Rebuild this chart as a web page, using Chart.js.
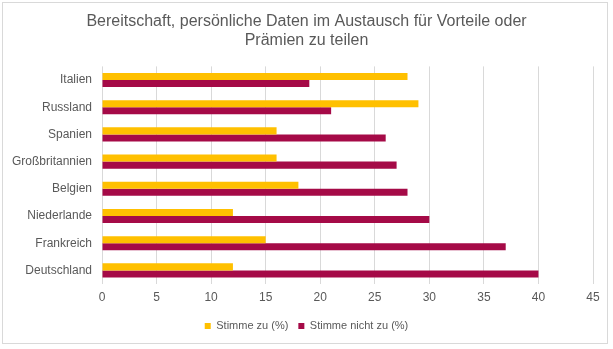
<!DOCTYPE html>
<html>
<head>
<meta charset="utf-8">
<script src="https://cdn.jsdelivr.net/npm/chart.js@4/dist/chart.umd.min.js"></script>
<style>
  html, body { margin: 0; padding: 0; background: #fff; }
  #frame { position: absolute; left: 2px; top: 2px; width: 606px; height: 342px; border: 1px solid #d9d9d9; box-sizing: border-box; }
  #wrap { position: absolute; left: 0; top: 0; width: 613px; height: 349px; }
</style>
</head>
<body>
<div id="frame"></div>
<div id="wrap"><canvas id="mainChart"></canvas></div>
<script>
// ═══ DATA ═══
const laender = ['Italien','Russland','Spanien','Großbritannien','Belgien','Niederlande','Frankreich','Deutschland'];
const stimmeZu = [28, 29, 16, 16, 18, 12, 15, 12];
const stimmeNichtZu = [19, 21, 26, 27, 28, 30, 37, 40];
const xTicks = [0, 5, 10, 15, 20, 25, 30, 35, 40, 45];

const grau = '#595959';
const schrift = 'Liberation Sans, Arial, sans-serif';

function initMainChart() {
  new Chart(document.getElementById('mainChart'), {
    type: 'bar',
    data: {
      labels: laender,
      datasets: [
        { label: 'Stimme zu (%)',       data: stimmeZu,      backgroundColor: '#FFC000', barPercentage: 1, categoryPercentage: .52 },
        { label: 'Stimme nicht zu (%)', data: stimmeNichtZu, backgroundColor: '#A50A47', barPercentage: 1, categoryPercentage: .52 }
      ]
    },
    options: {
      indexAxis: 'y',
      responsive: true,
      maintainAspectRatio: false,
      animation: false,
      layout: { padding: { left: 0, right: 0, top: 0, bottom: 7.6 } },
      plugins: {
        title: {
          display: true,
          text: ['Bereitschaft, persönliche Daten im Austausch für Vorteile oder', 'Prämien zu teilen'],
          color: grau,
          font: { family: schrift, size: 16, weight: 'normal', lineHeight: 1.2 },
          padding: { top: 12, bottom: 16 }
        },
        legend: {
          position: 'bottom',
          labels: {
            boxWidth: 6, boxHeight: 6, padding: 10,
            color: grau,
            font: { family: schrift, size: 11 }
          }
        },
        tooltip: { enabled: false }
      },
      scales: {
        x: {
          min: 0, max: 45,
          afterBuildTicks: ax => { ax.ticks = xTicks.map(v => ({ value: v })); },
          grid: { color: '#d9d9d9', drawTicks: false },
          border: { display: false },
          ticks: { color: grau, padding: 6, font: { family: schrift, size: 12 } }
        },
        y: {
          afterFit: ax => { ax.width = 102; },
          grid: { display: false, drawTicks: false },
          border: { display: false },
          ticks: { color: grau, padding: 10, font: { family: schrift, size: 12 } }
        },
        // leere Achse rechts, hält 20px Rand frei
        yRand: {
          type: 'linear', axis: 'y', position: 'right',
          afterFit: ax => { ax.width = 20; },
          grid: { display: false, drawTicks: false },
          border: { display: false },
          ticks: { display: false }
        }
      }
    }
  });
}

document.addEventListener('DOMContentLoaded', initMainChart);
</script>
</body>
</html>
